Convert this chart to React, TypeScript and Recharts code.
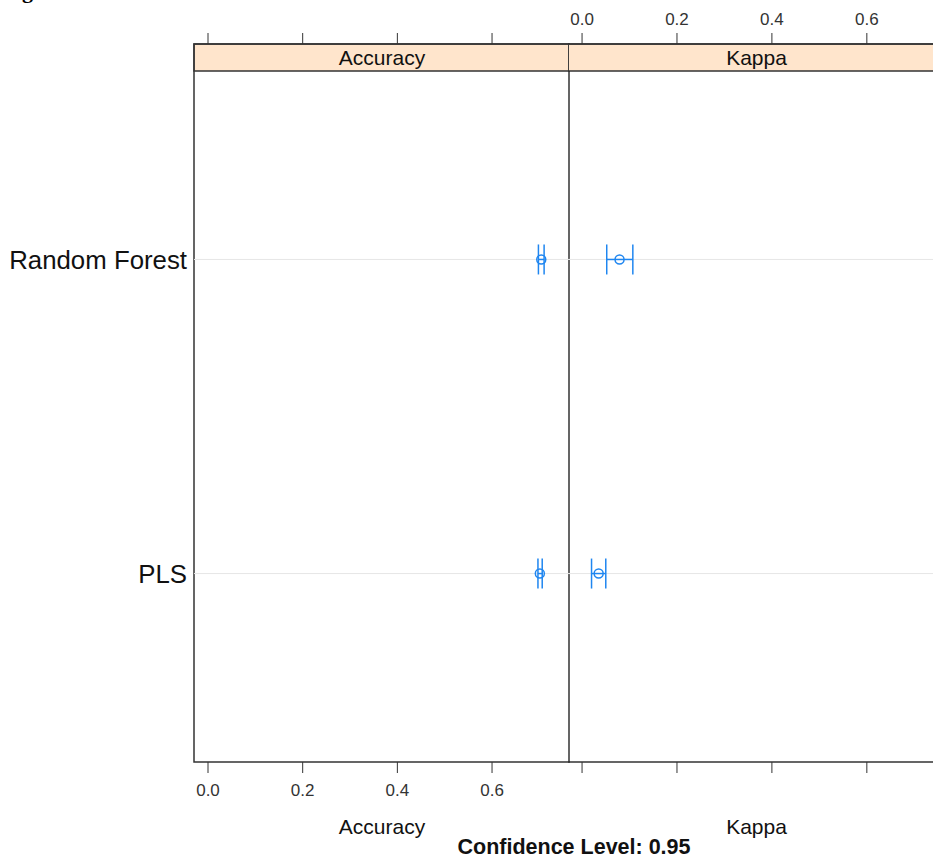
import React from "react";
import {
  ScatterChart,
  Scatter,
  ErrorBar,
  XAxis,
  YAxis,
  ReferenceArea,
  ReferenceLine,
} from "recharts";

// models on the y axis (1 = PLS, 2 = Random Forest)
const models = ["PLS", "Random Forest"];
const modelRows = [1, 2];

// resampled estimates with 95% confidence intervals
const accuracyMean = [0.701, 0.704];
const accuracyLower = [0.697, 0.698];
const accuracyUpper = [0.706, 0.71];

const kappaMean = [0.035, 0.079];
const kappaLower = [0.02, 0.052];
const kappaUpper = [0.05, 0.107];

const xTicks = [0, 0.2, 0.4, 0.6];

const X_DOMAIN = [-0.0296, 0.7647];
const Y_DOMAIN = [0.4, 2.686];
const STRIP_BOTTOM = 2.6;

const BLUE = "#1f86f0";
const FRAME = "#333";
const FONT = "'Liberation Sans', Arial, Helvetica, sans-serif";

const buildRows = (mean: number[], lower: number[], upper: number[]) =>
  modelRows.map((row, i) => ({
    name: models[i],
    y: row,
    x: mean[i],
    err: [mean[i] - lower[i], upper[i] - mean[i]],
  }));

const accuracyData = buildRows(accuracyMean, accuracyLower, accuracyUpper);
const kappaData = buildRows(kappaMean, kappaLower, kappaUpper);

const OpenCircle = (props: any) => (
  <circle cx={props.cx} cy={props.cy} r={4.5} fill="none" stroke={BLUE} strokeWidth={1.5} />
);

function Panel({
  data,
  title,
  labelsOnTop,
  showRowNames,
  width,
}: {
  data: any[];
  title: string;
  labelsOnTop: boolean;
  showRowNames: boolean;
  width: number;
}) {
  const tickStyle = { fontSize: 17, fill: "#333", fontFamily: FONT };
  const blank = () => "";
  return (
    <ScatterChart width={width} height={865} margin={{ top: 0, right: 0, bottom: 0, left: 0 }}>
      <XAxis
        xAxisId="top"
        orientation="top"
        type="number"
        dataKey="x"
        domain={X_DOMAIN}
        ticks={xTicks}
        allowDataOverflow
        height={44}
        axisLine={false}
        tickSize={11}
        tickMargin={8}
        tickLine={{ stroke: FRAME }}
        tick={tickStyle}
        tickFormatter={labelsOnTop ? (v: number) => v.toFixed(1) : blank}
      />
      <XAxis
        xAxisId="bottom"
        orientation="bottom"
        type="number"
        dataKey="x"
        domain={X_DOMAIN}
        ticks={xTicks}
        allowDataOverflow
        height={103}
        axisLine={false}
        tickSize={11}
        tickMargin={11}
        tickLine={{ stroke: FRAME }}
        tick={tickStyle}
        tickFormatter={labelsOnTop ? blank : (v: number) => v.toFixed(1)}
        label={{
          value: title,
          position: "insideTop",
          offset: 57,
          fontSize: 21,
          fill: "#111",
          fontFamily: FONT,
        }}
      />
      {showRowNames ? (
        <YAxis
          type="number"
          dataKey="y"
          domain={Y_DOMAIN}
          ticks={modelRows}
          allowDataOverflow
          width={194}
          axisLine={false}
          tickLine={false}
          tickSize={0}
          tickMargin={7}
          tick={{ fontSize: 25.8, fill: "#111", fontFamily: FONT }}
          tickFormatter={(v: number) => models[v - 1] ?? ""}
        />
      ) : (
        <YAxis type="number" dataKey="y" domain={Y_DOMAIN} allowDataOverflow hide />
      )}

      {modelRows.map((row) => (
        <ReferenceLine key={row} xAxisId="bottom" y={row} stroke="#e6e6e6" strokeWidth={1} />
      ))}

      <Scatter
        xAxisId="bottom"
        data={data}
        shape={OpenCircle}
        isAnimationActive={false}
      >
        <ErrorBar dataKey="err" direction="x" width={15} stroke={BLUE} strokeWidth={1.5} />
      </Scatter>

      <ReferenceArea
        xAxisId="bottom"
        x1={X_DOMAIN[0]}
        x2={X_DOMAIN[1]}
        y1={STRIP_BOTTOM}
        y2={Y_DOMAIN[1]}
        fill="#ffe5cc"
        fillOpacity={1}
        stroke={FRAME}
        strokeWidth={1.4}
        label={{ value: title, position: "center", fontSize: 21, fill: "#111", fontFamily: FONT }}
      />
      <ReferenceArea
        xAxisId="bottom"
        x1={X_DOMAIN[0]}
        x2={X_DOMAIN[1]}
        y1={Y_DOMAIN[0]}
        y2={Y_DOMAIN[1]}
        fill="none"
        fillOpacity={0}
        stroke={FRAME}
        strokeWidth={1.5}
      />
    </ScatterChart>
  );
}

export default function App() {
  return (
    <div
      style={{
        position: "absolute",
        left: 0,
        top: 0,
        width: 933,
        height: 865,
        overflow: "hidden",
        background: "#fff",
        fontFamily: FONT,
      }}
    >
      {/* leftover of the figure caption above */}
      <div
        style={{
          position: "absolute",
          left: 22,
          top: -20,
          fontFamily: "'Liberation Serif', 'DejaVu Serif', serif",
          fontWeight: "bold",
          fontSize: 22,
          lineHeight: "22px",
        }}
      >
        g
      </div>
      <div style={{ position: "absolute", left: 0, top: 0 }}>
        <Panel data={accuracyData} title="Accuracy" labelsOnTop={false} showRowNames width={570} />
      </div>
      <div style={{ position: "absolute", left: 568, top: 0 }}>
        <Panel data={kappaData} title="Kappa" labelsOnTop showRowNames={false} width={377} />
      </div>
      <div
        style={{
          position: "absolute",
          left: 374,
          width: 400,
          top: 834,
          textAlign: "center",
          fontWeight: "bold",
          fontSize: 21.5,
          lineHeight: "26px",
          color: "#111",
        }}
      >
        Confidence Level: 0.95
      </div>
    </div>
  );
}
